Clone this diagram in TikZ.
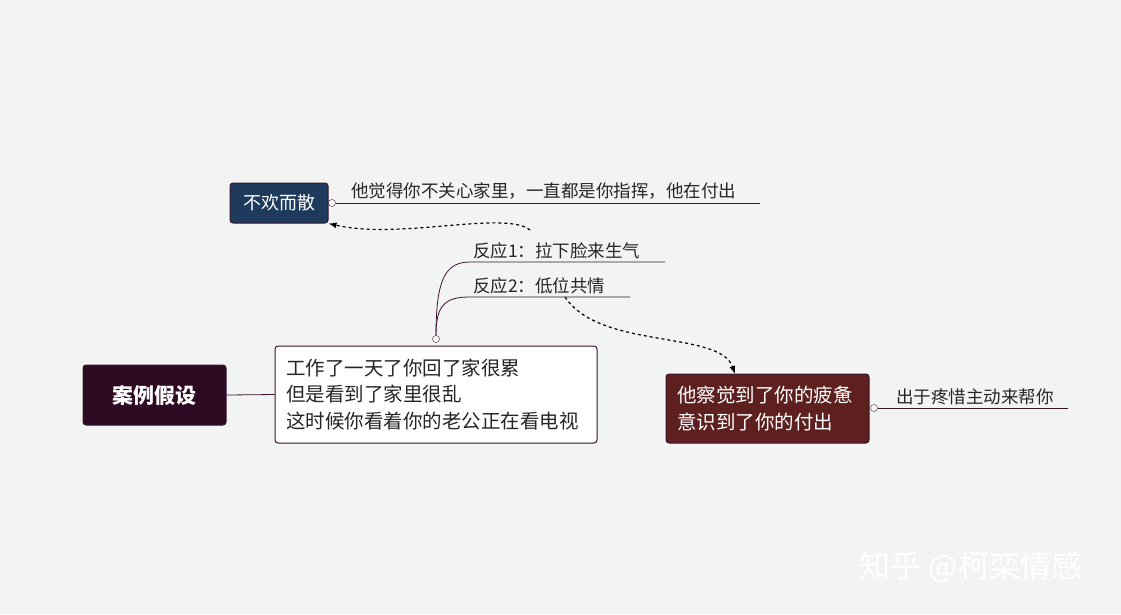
\documentclass[tikz,border=0pt]{standalone}
\usepackage{fontspec}
\setmainfont{Noto Sans CJK SC}
\usetikzlibrary{arrows.meta, positioning}
\definecolor{bgpaper}{HTML}{F2F3F3}
\definecolor{rootdark}{HTML}{2D0A22}
\definecolor{navybox}{HTML}{1E3A5C}
\definecolor{redbox}{HTML}{5E1F1F}
\definecolor{linedark}{HTML}{3A1530}
\tikzset{
  topic/.style={draw=linedark, rounded corners=3pt, line width=1pt, align=left, inner sep=0pt},
  branchline/.style={draw=linedark, line width=0.8pt},
  knob/.style={circle, draw=linedark, fill=white, inner sep=0pt, minimum size=7pt},
  label/.style={anchor=south west, font=\fontsize{17.5}{20}\selectfont, text=black!85, inner sep=3pt},
}
\begin{document}
\begin{tikzpicture}[x=1pt,y=-1pt]
			\useasboundingbox (0,0) rectangle (1121,614);
			\fill[bgpaper] (0,0) rectangle (1121,614);
			% root
			\node[topic, fill=rootdark, minimum width=143pt, minimum height=60pt, text=white, font=\bfseries\fontsize{21}{24}\selectfont] (root) at (154.5,395) {案例假设};
			\node[topic, fill=white, minimum width=322pt, minimum height=97pt, inner xsep=11pt, text width=300pt, font=\fontsize{19.5}{26.5}\selectfont, text=black!85] (case) at (436,394.5) {工作了一天了你回了家很累\\但是看到了家里很乱\\这时候你看着你的老公正在看电视};
			\draw[branchline] (root.east) -- (case.west);
			% reactions
			\node[knob] (caseknob) at (436,339) {};
			\coordinate (r1start) at (470,262);
			\coordinate (r1end) at (665,262);
			\coordinate (r2start) at (470,297);
			\coordinate (r2end) at (630,297);
			\draw[branchline] (caseknob) .. controls (436,280) and (445,262) .. (r1start) -- (r1end);
			\draw[branchline] (caseknob) .. controls (436,305) and (445,297) .. (r2start) -- (r2end);
			\node[label] (r1) at (r1start) {反应1：拉下脸来生气};
			\node[label] (r2) at (r2start) {反应2：低位共情};
			% bad ending
			\node[topic, fill=navybox, minimum width=98pt, minimum height=40pt, text=white, font=\fontsize{18}{20}\selectfont] (bad) at (279,203) {不欢而散};
			\node[knob] (badknob) at (332,203) {};
			\coordinate (badend) at (760,203);
			\draw[branchline] (badknob) -- (badend);
			\node[label] (badtext) at (348,203) {他觉得你不关心家里，一直都是你指挥，他在付出};
			\draw[dashed, line width=1.2pt, -{Latex[length=8pt]}] (530,230) .. controls (505,210) and (400,240) .. (bad.south east);
			% good ending
			\node[topic, fill=redbox, minimum width=203pt, minimum height=69pt, inner xsep=11pt, text width=181pt, text=white, font=\fontsize{19.5}{27}\selectfont] (good) at (767.5,408.5) {他察觉到了你的疲惫\\意识到了你的付出};
			\node[knob] (goodknob) at (874,408) {};
			\coordinate (goodend) at (1068,408);
			\draw[branchline] (goodknob) -- (goodend);
			\node[label] (goodtext) at (893,408) {出于疼惜主动来帮你};
			\draw[dashed, line width=1.2pt, -{Latex[length=8pt]}] (565,297) .. controls (600,350) and (720,330) .. (735,374);
			% watermark
			\node[text=white, font=\fontsize{31}{34}\selectfont] (mark) at (971,567) {知乎 @柯栾情感};
\end{tikzpicture}
\end{document}
